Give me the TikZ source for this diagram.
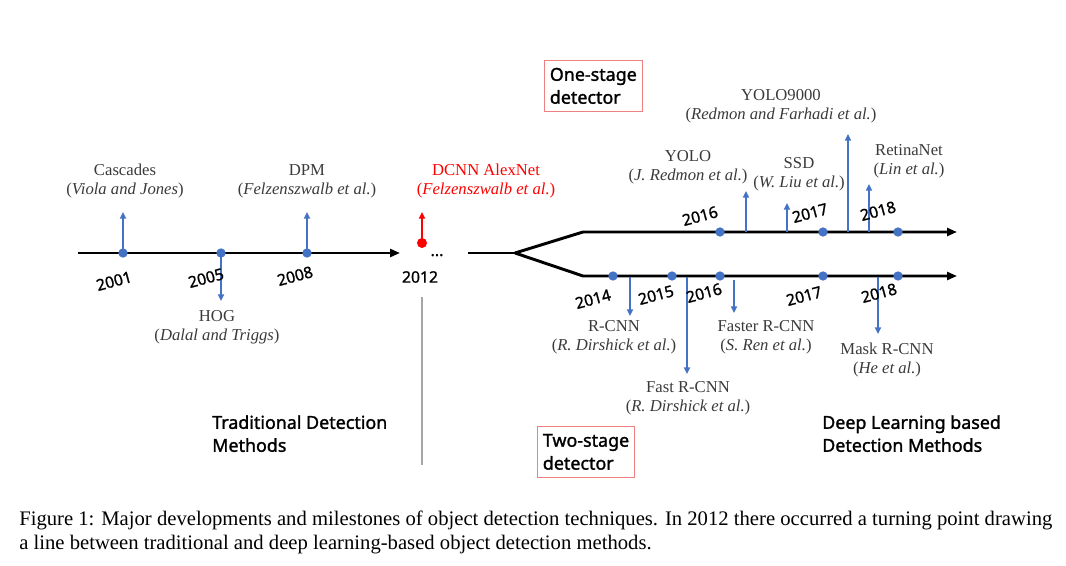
\documentclass[tikz,border=0pt]{standalone}
\usepackage{fontspec}
\setmainfont{Liberation Serif}
\newfontfamily\yrfont[FakeBold=1.2]{Noto Sans}
\newfontfamily\hdfont[FakeBold=1.5]{Noto Sans}
\usetikzlibrary{arrows.meta}
\definecolor{dotblue}{HTML}{4472C4}
\definecolor{labgray}{HTML}{3A3A3A}
\definecolor{boxred}{HTML}{F08080}
\definecolor{vgray}{HTML}{A6A6A6}
\begin{document}
\begin{tikzpicture}[x=0.75pt,y=-0.75pt,
  lab/.style={font=\fontsize{12.5}{14.25}\selectfont, text=labgray, align=center, inner sep=0},
  yr/.style={font=\yrfont\fontsize{11.8}{13}\selectfont, rotate=15, inner sep=0},
  dotnode/.style={circle, fill=dotblue, minimum size=7pt, inner sep=0},
  barrow/.style={draw=dotblue, line width=1.4pt, -{Triangle[length=5pt,width=4.5pt]}},
  mainline/.style={draw=black, line width=2.2pt},
  mainarrow/.style={mainline, -{Triangle[length=7.5pt,width=6pt]}},
  hd/.style={font=\hdfont\fontsize{13.4}{17.2}\selectfont, align=left, inner sep=0, anchor=north west},
  stagebox/.style={draw=boxred, line width=0.8pt, inner xsep=4pt, inner ysep=3pt, align=left, font=\hdfont\fontsize{13.4}{17.2}\selectfont, anchor=north west},
  captext/.style={font=\fontsize{15.5}{18}\selectfont, inner sep=0, anchor=base west}
]
\useasboundingbox (0,0) rectangle (1066,566);

% ---------- traditional timeline ----------
\coordinate (L0) at (78,253);
\coordinate (L1) at (400,253);
\draw[mainarrow] (L0) -- (L1);
\node[dotnode] (d2001) at (123,253) {};
\node[dotnode] (d2005) at (221,253) {};
\node[dotnode] (d2008) at (307,253) {};
\coordinate (a2001) at (123,212);
\coordinate (a2005) at (221,301);
\coordinate (a2008) at (307,212);
\draw[barrow] (d2001.center) -- (a2001);
\draw[barrow] (d2005.center) -- (a2005);
\draw[barrow] (d2008.center) -- (a2008);

\node[yr] (y2001) at (114,281) {2001};
\node[yr] (y2005) at (206,278) {2005};
\node[yr] (y2008) at (295,276) {2008};
\node[yr, rotate=-15] (y2012) at (420,277) {2012};

\node[lab] (cascades) at (125,181) {Cascades\\(\textit{Viola and Jones})};
\node[lab] (dpm) at (307,181) {DPM\\(\textit{Felzenszwalb et al.})};
\node[lab] (hog) at (217,327) {HOG\\(\textit{Dalal and Triggs})};

% ---------- 2012 ----------
\node[circle, fill=red, minimum size=7.5pt, inner sep=0] (d2012) at (422,243) {};
\coordinate (a2012) at (422,212);
\draw[draw=red, line width=1.4pt, -{Triangle[length=5pt,width=4.5pt]}] (d2012.center) -- (a2012);
\node[lab, text=red] (alexnet) at (486,181) {DCNN AlexNet\\(\textit{Felzenszwalb et al.})};
\node[font=\yrfont\fontsize{12}{14}\selectfont, inner sep=0, anchor=base] (dots) at (437,256) {...};
\coordinate (g0) at (422,297);
\coordinate (g1) at (422,465);
\draw[vgray, line width=1.2pt] (g0) -- (g1);

% ---------- fork ----------
\coordinate (f0) at (468,253);
\coordinate (f1) at (515,253);
\coordinate (u0) at (583,232);
\coordinate (u1) at (957,232);
\coordinate (w0) at (583,276);
\coordinate (w1) at (957,276);
\draw[mainline, line join=miter] (f0) -- (f1);
\draw[mainarrow] (f1) -- (u0) -- (u1);
\draw[mainarrow] (f1) -- (w0) -- (w1);

% upper (one-stage)
\node[dotnode] (u2016) at (720,232) {};
\node[dotnode] (u2017) at (823,232) {};
\node[dotnode] (u2018) at (898,232) {};
\coordinate (yolo-s) at (746,232);   \coordinate (yolo-e) at (746,191);
\coordinate (ssd-s) at (787,232);    \coordinate (ssd-e) at (787,203);
\coordinate (y9k-s) at (848,232);    \coordinate (y9k-e) at (848,134);
\coordinate (ret-s) at (869,232);    \coordinate (ret-e) at (869,184);
\draw[barrow] (yolo-s) -- (yolo-e);
\draw[barrow] (ssd-s) -- (ssd-e);
\draw[barrow] (y9k-s) -- (y9k-e);
\draw[barrow] (ret-s) -- (ret-e);
\node[yr] (uy2016) at (700,216) {2016};
\node[yr] (uy2017) at (810,213) {2017};
\node[yr] (uy2018) at (878,211) {2018};
\node[lab] (yolo9000) at (781,106) {YOLO9000\\(\textit{Redmon and Farhadi et al.})};
\node[lab] (yolo) at (688,167) {YOLO\\(\textit{J. Redmon et al.})};
\node[lab] (ssd) at (799,174) {SSD\\(\textit{W. Liu et al.})};
\node[lab] (retina) at (909,161) {RetinaNet\\(\textit{Lin et al.})};

% lower (two-stage)
\node[dotnode] (w2014) at (613,276) {};
\node[dotnode] (w2015) at (672,276) {};
\node[dotnode] (w2016) at (720,276) {};
\node[dotnode] (w2017) at (823,276) {};
\node[dotnode] (w2018) at (898,276) {};
\coordinate (rcnn-s) at (630,277);   \coordinate (rcnn-e) at (630,316);
\coordinate (fast-s) at (687,277);   \coordinate (fast-e) at (687,374);
\coordinate (faster-s) at (734,280); \coordinate (faster-e) at (734,313);
\coordinate (mask-s) at (878,277);   \coordinate (mask-e) at (878,334);
\draw[barrow] (rcnn-s) -- (rcnn-e);
\draw[barrow] (fast-s) -- (fast-e);
\draw[barrow] (faster-s) -- (faster-e);
\draw[barrow] (mask-s) -- (mask-e);
\node[yr] (wy2014) at (593,299) {2014};
\node[yr] (wy2015) at (656,295) {2015};
\node[yr] (wy2016) at (704,293) {2016};
\node[yr] (wy2017) at (804,296) {2017};
\node[yr] (wy2018) at (879,293) {2018};
\node[lab] (rcnn) at (614,337) {R-CNN\\(\textit{R. Dirshick et al.})};
\node[lab] (fastrcnn) at (688,398) {Fast R-CNN\\(\textit{R. Dirshick et al.})};
\node[lab] (fasterrcnn) at (766,337) {Faster R-CNN\\(\textit{S. Ren et al.})};
\node[lab] (maskrcnn) at (887,360) {Mask R-CNN\\(\textit{He et al.})};

% ---------- boxes & headings ----------
\node[stagebox, minimum width=73pt, minimum height=38pt] (onestage) at (544,60) {One-stage\\detector};
\node[stagebox, minimum width=72pt, minimum height=38pt] (twostage) at (537,426) {Two-stage\\detector};
\node[hd] (trad) at (212,415) {Traditional Detection\\Methods};
\node[hd] (deep) at (822,415) {Deep Learning based\\Detection Methods};

% ---------- caption ----------
\node[captext] (cap1) at (19,525) {Figure 1: Major developments and milestones of object detection techniques. In 2012 there occurred a turning point drawing};
\node[captext] (cap2) at (19,549) {a line between traditional and deep learning-based object detection methods.};
\end{tikzpicture}
\end{document}
